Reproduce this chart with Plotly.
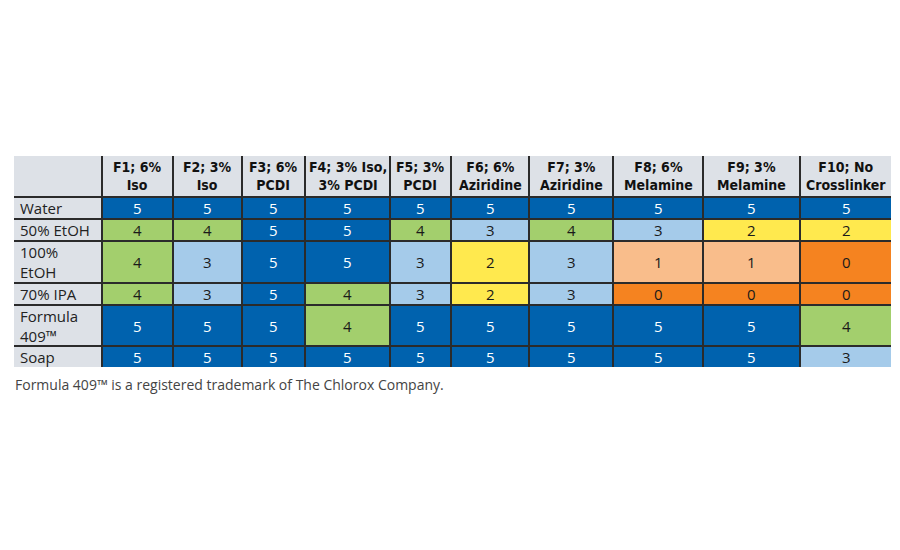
import plotly.graph_objects as go

# table data
formulations = ["F1; 6%<br>Iso", "F2; 3%<br>Iso", "F3; 6%<br>PCDI", "F4; 3% Iso,<br>3% PCDI",
                "F5; 3%<br>PCDI", "F6; 6%<br>Aziridine", "F7; 3%<br>Aziridine",
                "F8; 6%<br>Melamine", "F9; 3%<br>Melamine", "F10; No<br>Crosslinker"]
solvents = ["Water", "50% EtOH", "100%<br>EtOH", "70% IPA", "Formula<br>409™", "Soap"]
ratings = [
    [5, 5, 5, 5, 5, 5, 5, 5, 5, 5],
    [4, 4, 5, 5, 4, 3, 4, 3, 2, 2],
    [4, 3, 5, 5, 3, 2, 3, 1, 1, 0],
    [4, 3, 5, 4, 3, 2, 3, 0, 0, 0],
    [5, 5, 5, 4, 5, 5, 5, 5, 5, 4],
    [5, 5, 5, 5, 5, 5, 5, 5, 5, 3],
]
caption = "Formula 409™ is a registered trademark of The Chlorox Company."

# grid layout, in page pixels (column / row edges)
col_edges = [13, 102, 173, 242, 305, 390, 451, 529, 613, 703, 800, 892]
row_edges = [155, 197, 219, 241, 283, 305, 346, 368]
caption_y = 384
PAGE = 8  # default body margin of the html page

rating_colors = ["#f58320", "#f9bd8b", "#ffe94e", "#a5cbea", "#a3cf6d", "#0062ae"]
label_bg = "#dde1e7"
grid_col = "#2b2b2b"
gap = 2

scale = [[i / 5, c] for i, c in enumerate(rating_colors)]
gray_scale = [[0, label_bg], [1, label_bg]]

x0, x1 = col_edges[0] + 1, col_edges[-1] - 1
y0, y1 = row_edges[0] + 1, row_edges[-1] - 1

fig = go.Figure()
# rating cells
fig.add_trace(go.Heatmap(
    x=col_edges[1:], y=row_edges[1:], z=ratings,
    colorscale=scale, zmin=0, zmax=5, showscale=False,
    xgap=gap, ygap=gap, hoverinfo="skip",
))
# header row
fig.add_trace(go.Heatmap(
    x=col_edges, y=row_edges[:2], z=[[0] * (len(col_edges) - 1)],
    colorscale=gray_scale, showscale=False, xgap=gap, ygap=gap, hoverinfo="skip",
))
# label column
fig.add_trace(go.Heatmap(
    x=col_edges[:2], y=row_edges[1:], z=[[0] for _ in solvents],
    colorscale=gray_scale, showscale=False, xgap=gap, ygap=gap, hoverinfo="skip",
))

# header text
for j, f in enumerate(formulations):
    fig.add_annotation(
        x=(col_edges[j + 1] + col_edges[j + 2]) / 2, y=(row_edges[0] + row_edges[1]) / 2,
        text="<b>%s</b>" % f, showarrow=False, xanchor="center", yanchor="middle",
        font=dict(family="DejaVu Sans Condensed", size=14, color="#111111"),
    )
# row labels
for i, s in enumerate(solvents):
    fig.add_annotation(
        x=col_edges[0] + 5, y=(row_edges[i + 1] + row_edges[i + 2]) / 2,
        text=s, showarrow=False, xanchor="left", yanchor="middle", align="left",
        font=dict(family="Open Sans", size=15, color="#222222"),
    )
# rating values
for i, row in enumerate(ratings):
    for j, v in enumerate(row):
        fig.add_annotation(
            x=(col_edges[j + 1] + col_edges[j + 2]) / 2, y=(row_edges[i + 1] + row_edges[i + 2]) / 2,
            text=str(v), showarrow=False, xanchor="center", yanchor="middle",
            font=dict(family="Open Sans", size=15, color="white" if v == 5 else "#1a1a1a"),
        )

fig.add_annotation(text=caption, xref="paper", yref="paper",
                   x=(col_edges[0] - x0) / (x1 - x0), y=(y1 - caption_y) / (y1 - y0),
                   xanchor="left", yanchor="middle", showarrow=False,
                   font=dict(family="Open Sans", size=14, color="#444444"))

fig.update_xaxes(range=[x0, x1], visible=False, fixedrange=True)
fig.update_yaxes(range=[y1, y0], visible=False, fixedrange=True)
fig.update_layout(
    width=900, height=550,
    margin=dict(l=x0 - PAGE, r=900 - (x1 - PAGE), t=y0 - PAGE, b=550 - (y1 - PAGE)),
    paper_bgcolor="white", plot_bgcolor=grid_col,
)
fig.write_html("out.html")
